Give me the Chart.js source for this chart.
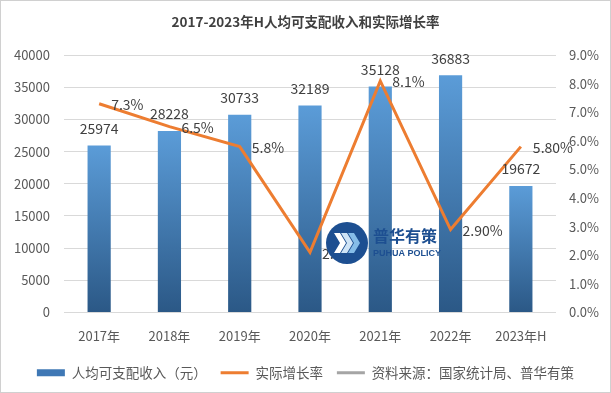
<!DOCTYPE html>
<html>
<head>
<meta charset="utf-8">
<script src="https://cdn.jsdelivr.net/npm/chart.js@4.4.0/dist/chart.umd.min.js"></script>
<style>
  html, body { margin: 0; padding: 0; background: #fff; }
  #wrap { width: 611px; height: 393px; position: relative; }
</style>
</head>
<body>
<div id="wrap"><canvas id="incomeChart"></canvas></div>
<script>
const years = ['2017年', '2018年', '2019年', '2020年', '2021年', '2022年', '2023年H'];
const income = [25974, 28228, 30733, 32189, 35128, 36883, 19672];
const growth = [7.3, 6.5, 5.8, 2.1, 8.1, 2.9, 5.8];
const growthLabels = ['7.3%', '6.5%', '5.8%', '2.1%', '8.1%', '2.90%', '5.80%'];
const incomeAxis = [0, 40000, 5000];
const rateAxis = [0, 9, 1];

const FONT = '"Noto Sans CJK SC", "Noto Sans", sans-serif';
const GREY = '#595959';

function barGradient(context) {
    const chart = context.chart;
    if (!chart.chartArea || context.type !== 'data') return '#3f78b5';
    const yScale = chart.scales.y;
    const top = yScale.getPixelForValue(context.raw);
    const bottom = yScale.getPixelForValue(0);
    const g = chart.ctx.createLinearGradient(0, top, 0, bottom);
    g.addColorStop(0, '#5b9cd8');
    g.addColorStop(1, '#2b5886');
    return g;
}

// value labels on bars and on the line
const valueLabels = {
    id: 'valueLabels',
    afterDatasetsDraw(chart) {
        const ctx = chart.ctx;
        ctx.save();
        ctx.font = '14px ' + FONT;
        ctx.fillStyle = '#404040';
        ctx.textBaseline = 'middle';
        ctx.textAlign = 'center';
        chart.getDatasetMeta(0).data.forEach((el, i) => {
            ctx.fillText(String(income[i]), el.x, el.y - 17);
        });
        ctx.textAlign = 'left';
        chart.getDatasetMeta(1).data.forEach((el, i) => {
            ctx.fillText(growthLabels[i], el.x + 12, el.y + 1);
        });
        ctx.restore();
    }
};

// white page, frame and the watermark logo
const decor = {
    id: 'decor',
    beforeDraw(chart) {
        const ctx = chart.ctx;
        ctx.save();
        ctx.fillStyle = '#fff';
        ctx.fillRect(0, 0, chart.width, chart.height);
        ctx.restore();
    },
    afterDraw(chart) {
        const ctx = chart.ctx;
        ctx.save();
        ctx.strokeStyle = '#d0d0d0';
        ctx.lineWidth = 1;
        ctx.strokeRect(0.5, 0.5, chart.width - 1, chart.height - 1);

        const cx = 347, cy = 243;
        ctx.fillStyle = '#1d4f91';
        ctx.beginPath();
        ctx.arc(cx, cy, 21, 0, Math.PI * 2);
        ctx.fill();
        const cols = ['#ffffff', '#cfe4f6', '#86bde8'];
        for (let k = 0; k < 3; k++) {
            const x = cx - 13 + k * 7;
            ctx.fillStyle = cols[k];
            ctx.beginPath();
            ctx.moveTo(x, cy - 10);
            ctx.lineTo(x + 6, cy - 10);
            ctx.lineTo(x + 12, cy);
            ctx.lineTo(x + 6, cy + 10);
            ctx.lineTo(x, cy + 10);
            ctx.lineTo(x + 6, cy);
            ctx.closePath();
            ctx.fill();
        }
        ctx.fillStyle = '#1d4f91';
        ctx.textAlign = 'left';
        ctx.textBaseline = 'middle';
        ctx.font = 'bold 16px ' + FONT;
        ctx.fillText('普华有策', 373, 236);
        ctx.font = 'bold 9px "Liberation Sans", Arial, sans-serif';
        ctx.fillText('PUHUA POLICY', 373, 254);
        ctx.restore();
    }
};

const ctx = document.getElementById('incomeChart').getContext('2d');

const incomeChart = new Chart(ctx, {
    data: {
        labels: years,
        datasets: [{
            type: 'bar',
            label: '人均可支配收入（元）',
            data: income,
            yAxisID: 'y',
            backgroundColor: barGradient,
            barPercentage: 0.33,
            categoryPercentage: 1,
            order: 2
        }, {
            type: 'line',
            label: '实际增长率',
            data: growth,
            yAxisID: 'y1',
            borderColor: '#ed7d31',
            borderWidth: 3,
            pointRadius: 0,
            tension: 0,
            order: 1
        }, {
            type: 'line',
            label: '资料来源：国家统计局、普华有策',
            data: [],
            yAxisID: 'y1',
            borderColor: '#a5a5a5',
            borderWidth: 3,
            pointRadius: 0
        }]
    },
    options: {
        responsive: true,
        maintainAspectRatio: false,
        animation: false,
        layout: { padding: { top: 0, bottom: 3.5, left: 0, right: 0 } },
        plugins: {
            title: {
                display: true,
                text: '2017-2023年H人均可支配收入和实际增长率',
                color: '#404040',
                font: { family: FONT, size: 13.5, weight: 'bold' },
                padding: { top: 14, bottom: 25 }
            },
            legend: {
                position: 'bottom',
                labels: {
                    usePointStyle: true,
                    pointStyleWidth: 28,
                    boxHeight: 7,
                    padding: 14,
                    color: GREY,
                    font: { family: FONT, size: 13.5 },
                    generateLabels(chart) {
                        return chart.data.datasets.map((ds, i) => ({
                            text: ds.label,
                            datasetIndex: i,
                            pointStyle: ds.type === 'bar' ? 'rect' : 'line',
                            fillStyle: ds.type === 'bar' ? '#3f78b5' : ds.borderColor,
                            strokeStyle: ds.type === 'bar' ? '#3f78b5' : ds.borderColor,
                            lineWidth: ds.type === 'bar' ? 0 : 3,
                            fontColor: GREY
                        }));
                    }
                }
            },
            tooltip: { enabled: false }
        },
        scales: {
            x: {
                grid: { display: false },
                border: { display: false },
                ticks: { color: GREY, font: { family: FONT, size: 13 }, padding: 8 }
            },
            y: {
                position: 'left',
                min: incomeAxis[0],
                max: incomeAxis[1],
                ticks: {
                    stepSize: incomeAxis[2],
                    color: GREY,
                    font: { family: FONT, size: 13 },
                    padding: 14,
                    callback: v => String(v)
                },
                grid: { color: '#d9d9d9', drawTicks: false },
                border: { display: false },
                afterFit(scale) { scale.width = 64; }
            },
            y1: {
                position: 'right',
                min: rateAxis[0],
                max: rateAxis[1],
                ticks: {
                    stepSize: rateAxis[2],
                    color: GREY,
                    font: { family: FONT, size: 13 },
                    padding: 13,
                    callback: v => v.toFixed(1) + '%'
                },
                grid: { display: false, drawTicks: false },
                border: { display: false },
                afterFit(scale) { scale.width = 55; }
            }
        }
    },
    plugins: [valueLabels, decor]
});
</script>
</body>
</html>
